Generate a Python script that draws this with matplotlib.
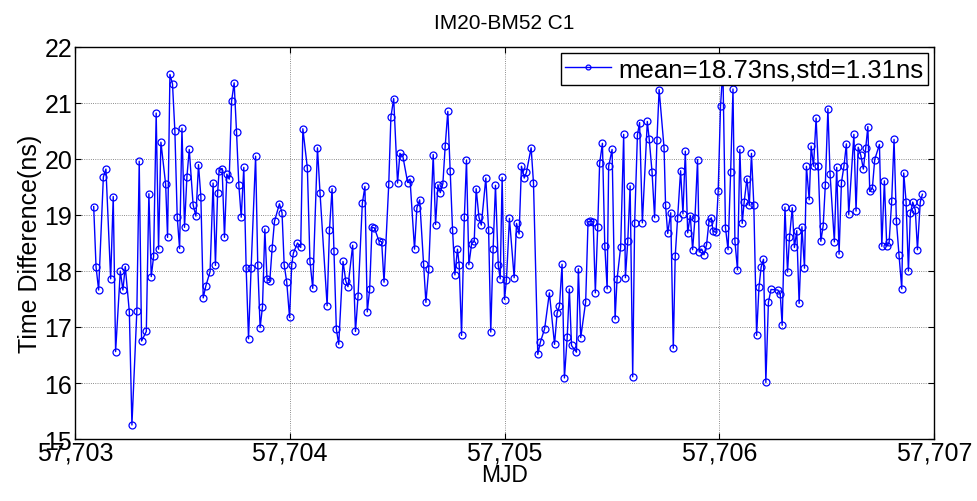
import numpy as np
import matplotlib
matplotlib.use('Agg')
import matplotlib.pyplot as plt
from matplotlib.ticker import FuncFormatter

plt.rcParams['font.family'] = ['Liberation Sans', 'DejaVu Sans']

# MJD = mjd0 + day offset
mjd0 = 57703
days = [
    0.087, 0.098, 0.110, 0.132, 0.144, 0.166, 0.178, 0.189, 0.211, 0.223,
    0.234, 0.253, 0.265, 0.288, 0.299, 0.310, 0.332, 0.344, 0.355, 0.366,
    0.378, 0.389, 0.400, 0.422, 0.431, 0.442, 0.454, 0.465, 0.476, 0.487,
    0.498, 0.510, 0.521, 0.532,
    0.550, 0.563, 0.575, 0.586, 0.597, 0.609, 0.629, 0.643, 0.654, 0.664,
    0.671, 0.685, 0.696, 0.707, 0.718, 0.729, 0.741, 0.752, 0.763, 0.774,
    0.786, 0.797, 0.808, 0.820, 0.841, 0.851, 0.862, 0.873, 0.884, 0.894,
    0.907, 0.918, 0.929, 0.952, 0.964, 0.974, 0.986, 0.999, 1.009, 1.017,
    1.036, 1.051, 1.061, 1.082, 1.094, 1.107, 1.129, 1.141, 1.174, 1.185,
    1.197, 1.206, 1.217, 1.228, 1.248, 1.261, 1.271, 1.293, 1.306, 1.318,
    1.338, 1.350, 1.361, 1.372, 1.383, 1.394, 1.415, 1.428, 1.439, 1.461,
    1.471, 1.484, 1.502, 1.513,
    1.527, 1.549, 1.560, 1.581, 1.592, 1.605, 1.623, 1.634, 1.647, 1.668,
    1.679, 1.690, 1.701, 1.713, 1.724, 1.736, 1.747, 1.758, 1.769, 1.781,
    1.789, 1.800, 1.813, 1.823, 1.834, 1.847, 1.859, 1.868, 1.881, 1.892,
    1.913, 1.926, 1.936, 1.947, 1.958, 1.971, 1.980, 1.989, 2.000,
    2.009, 2.023, 2.045, 2.056, 2.068, 2.079, 2.092, 2.102, 2.124, 2.135,
    2.155, 2.167, 2.187, 2.209, 2.233, 2.245, 2.256, 2.268, 2.279, 2.292,
    2.302, 2.312, 2.335, 2.344, 2.355, 2.378, 2.389, 2.400, 2.413, 2.423,
    2.434, 2.443, 2.456, 2.467, 2.478, 2.485,
    2.501, 2.515, 2.524, 2.541, 2.555, 2.563, 2.574, 2.585, 2.597, 2.606,
    2.619, 2.629, 2.642, 2.665, 2.674, 2.687, 2.699, 2.710, 2.720, 2.743,
    2.750, 2.760, 2.774, 2.786, 2.795, 2.806, 2.820, 2.831, 2.842, 2.853,
    2.865, 2.876, 2.887, 2.899, 2.907, 2.918, 2.929, 2.941, 2.952, 2.963,
    2.971,
    2.985, 2.995, 3.006, 3.017, 3.029, 3.041, 3.053, 3.064, 3.073, 3.085,
    3.096, 3.107, 3.116, 3.129, 3.140, 3.150, 3.161, 3.174, 3.185, 3.195,
    3.206, 3.217, 3.229, 3.241, 3.273, 3.284, 3.293, 3.306, 3.318, 3.327,
    3.340, 3.350, 3.361, 3.372, 3.385, 3.397, 3.406, 3.419, 3.428, 3.439,
    3.451, 3.461,
    3.473, 3.484, 3.494, 3.506, 3.516, 3.536, 3.547, 3.558, 3.569, 3.581,
    3.592, 3.603, 3.627, 3.637, 3.647, 3.659, 3.671, 3.682, 3.692, 3.701,
    3.713, 3.724, 3.746, 3.757, 3.769, 3.780, 3.791, 3.803, 3.814, 3.825,
    3.837, 3.850, 3.859, 3.870, 3.881, 3.890, 3.901, 3.913, 3.923, 3.936,
    3.946,
]

# time difference, ns
td = [
    19.15, 18.07, 17.66, 19.68, 19.82, 17.86, 19.33, 16.56, 18.00, 17.66,
    18.08, 17.27, 15.25, 17.29, 19.96, 16.75, 16.92, 19.38, 17.90, 18.26,
    20.82, 18.39, 20.30, 19.55, 18.60, 21.51, 21.34, 20.50, 18.96, 18.40,
    20.55, 18.78, 19.68, 20.17,
    19.18, 18.98, 19.90, 19.33, 17.52, 17.73, 17.99, 19.57, 18.10, 19.39,
    19.79, 19.83, 18.60, 19.73, 19.64, 21.03, 21.36, 20.49, 19.53, 18.96,
    19.85, 18.05, 16.79, 18.05, 20.05, 18.11, 16.99, 17.36, 18.75, 17.86,
    17.82, 18.41, 18.89, 19.20, 19.04, 18.11, 17.80, 17.17, 18.11, 18.32,
    18.50, 18.42, 20.54, 19.84, 18.18, 17.69, 20.20, 19.39, 17.38, 18.74,
    19.47, 18.35, 16.96, 16.69, 18.17, 17.82, 17.72, 18.46, 16.92, 17.55,
    19.21, 19.51, 17.27, 17.67, 18.78, 18.77, 18.54, 18.52, 17.80, 19.55,
    20.75, 21.08, 19.57, 20.10,
    20.04, 19.58, 19.64, 18.39, 19.13, 19.27, 18.12, 17.44, 18.03, 20.08,
    18.83, 19.54, 19.40, 19.56, 20.24, 20.85, 19.79, 18.74, 17.93, 18.39,
    18.11, 16.85, 18.96, 19.98, 18.11, 18.49, 18.53, 19.47, 18.96, 18.82,
    19.66, 18.73, 16.91, 18.40, 19.53, 18.10, 17.86, 19.67, 17.49,
    17.84, 18.94, 17.88, 18.85, 18.66, 19.87, 19.66, 19.76, 20.20, 19.57,
    16.51, 16.73, 16.97, 17.61, 16.69, 17.25, 17.38, 18.12, 16.09, 16.82,
    17.68, 16.67, 16.55, 18.04, 16.81, 17.45, 18.88, 18.89, 18.88, 17.61,
    18.78, 19.92, 20.28, 18.45, 17.68, 19.87,
    20.17, 17.14, 17.85, 18.43, 20.44, 17.88, 18.53, 19.52, 16.11, 18.85,
    20.43, 20.65, 18.86, 20.67, 20.35, 19.77, 18.95, 20.34, 21.24, 20.20,
    19.17, 18.67, 19.04, 16.62, 18.27, 18.95, 19.79, 19.02, 20.14, 18.68,
    18.99, 18.38, 18.95, 19.99, 18.34, 18.39, 18.29, 18.47, 18.88, 18.95,
    18.71,
    18.69, 19.42, 20.95, 21.60, 18.77, 18.38, 19.76, 21.25, 18.53, 18.02,
    20.17, 18.85, 19.23, 19.65, 19.17, 20.10, 19.18, 16.85, 17.71, 18.07,
    18.21, 16.01, 17.44, 17.67, 17.66, 17.59, 17.03, 19.14, 17.98, 18.60,
    19.13, 18.42, 18.72, 17.42, 18.79, 18.05, 19.87, 19.27, 20.23, 19.87,
    20.73, 19.87,
    18.53, 18.81, 19.54, 20.90, 19.73, 18.52, 19.85, 18.30, 19.58, 19.88,
    20.27, 19.01, 20.44, 19.07, 20.21, 20.07, 19.82, 20.19, 20.58, 19.42,
    19.48, 19.99, 20.26, 18.44, 19.61, 18.44, 18.51, 19.25, 20.35, 18.89,
    18.29, 17.68, 19.75, 19.24, 18.00, 19.03, 19.23, 19.09, 18.38, 19.23,
    19.37,
]

x_ticks = [57703, 57704, 57705, 57706, 57707]
y_ticks = [15, 16, 17, 18, 19, 20, 21, 22]
label = 'mean=18.73ns,std=1.31ns'

mjd = mjd0 + np.array(days)

fig = plt.figure(figsize=(9.78, 5.02), dpi=100)
ax = fig.add_axes([0.0767, 0.1235, 0.8783, 0.7809])

ax.plot(mjd, td, color='blue', lw=1.0, marker='o', ms=5, mfc='none',
        mec='blue', mew=0.9, label=label)

ax.set_xlim(57703, 57707)
ax.set_ylim(15, 22)
ax.set_xticks(x_ticks)
ax.set_yticks(y_ticks)
ax.xaxis.set_major_formatter(FuncFormatter(lambda v, p: '{:,.0f}'.format(v)))
ax.grid(True, color='black', linestyle=':', linewidth=0.6, alpha=0.6)
ax.tick_params(direction='in', top=True, right=True, labelsize=18,
               length=4, width=0.8)
ax.tick_params(axis='x', pad=1)
ax.tick_params(axis='y', pad=2)
for s in ax.spines.values():
    s.set_linewidth(1.0)

ax.set_title('IM20-BM52 C1', fontsize=15, pad=14)
ax.set_xlabel('MJD', fontsize=16.5, labelpad=-1)
ax.set_ylabel('Time Difference(ns)', fontsize=18, labelpad=2)

leg = ax.legend(loc='upper right', fontsize=18.5, fancybox=False,
                framealpha=1, edgecolor='black', borderaxespad=0.25,
                handlelength=1.8, handletextpad=0.3, borderpad=0.15)
leg.get_frame().set_linewidth(1.0)
leg.legend_handles[0].set_markersize(3.5)

fig.savefig('out.png', dpi=100)
